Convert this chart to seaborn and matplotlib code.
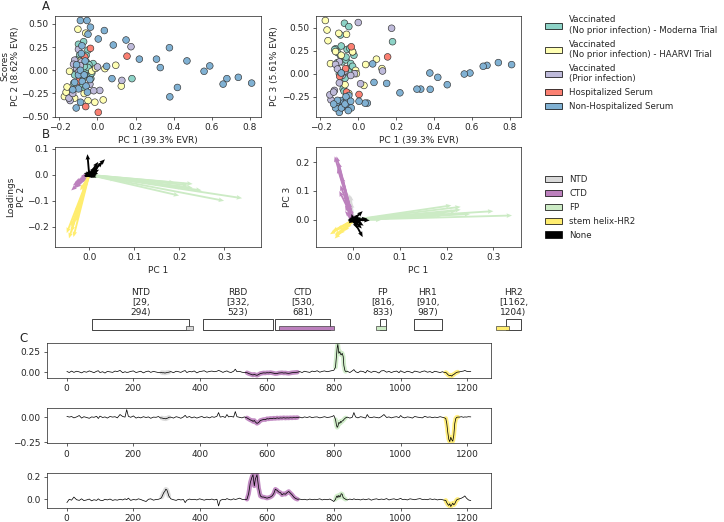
import numpy as np
import pandas as pd
import matplotlib
matplotlib.use("Agg")
import matplotlib.pyplot as plt
import seaborn as sns
from matplotlib.patches import Patch, Rectangle

# ---------------- DATA ----------------
GROUPS = ["Vaccinated\n(No prior infection) - Moderna Trial",
          "Vaccinated\n(No prior infection) - HAARVI Trial",
          "Vaccinated\n(Prior infection)",
          "Hospitalized Serum",
          "Non-Hospitalized Serum"]
GROUP_COLORS = ["#8dd3c7", "#ffffb3", "#bebada", "#fb8072", "#80b1d3"]

# scores (PC1, PC2, PC3) per sample
MODERNA = [(-0.073, 0.308, 0.547), (-0.050, 0.217, 0.511), (-0.094, 0.163, 0.420),
           (-0.059, 0.090, 0.263), (-0.023, 0.072, 0.200), (-0.045, 0.060, 0.274),
           (-0.030, 0.000, 0.237), (-0.095, 0.050, 0.200), (-0.085, 0.000, 0.128),
           (-0.065, -0.020, 0.150), (-0.040, -0.050, 0.110), (-0.035, -0.090, 0.060),
           (-0.110, -0.010, 0.230), (-0.080, -0.150, -0.164), (0.181, -0.090, 0.347),
           (-0.120, -0.050, 0.270), (-0.060, 0.160, 0.050), (-0.100, 0.280, 0.000),
           (-0.075, -0.080, -0.190), (-0.050, 0.030, 0.020), (-0.030, -0.030, 0.080),
           (-0.110, 0.110, 0.120), (-0.065, -0.200, 0.180), (-0.090, -0.100, 0.300),
           (-0.070, 0.040, -0.050), (-0.125, -0.140, 0.260)]
HAARVI = [(-0.174, -0.283, 0.577), (-0.165, -0.236, 0.474), (-0.103, 0.442, 0.438),
          (-0.062, 0.400, 0.427), (-0.147, -0.011, 0.109), (-0.160, -0.180, 0.358),
          (-0.050, -0.326, -0.215), (-0.014, -0.344, 0.036), (0.030, -0.319, -0.128),
          (0.039, 0.018, 0.099), (0.096, 0.054, 0.157), (0.125, -0.170, 0.055),
          (-0.030, -0.010, 0.237), (-0.070, -0.250, -0.120), (-0.120, -0.300, 0.240),
          (-0.090, 0.100, 0.200), (-0.010, 0.020, 0.000)]
PRIOR = [(0.176, 0.254, 0.493), (0.000, 0.036, 0.555), (-0.100, 0.225, 0.128),
         (-0.120, 0.109, 0.100), (-0.126, 0.065, -0.182), (-0.110, 0.020, 0.050),
         (-0.085, 0.090, -0.020), (-0.070, -0.050, 0.030), (0.012, -0.217, -0.109),
         (0.128, -0.109, 0.029), (-0.144, -0.326, -0.285), (-0.150, -0.300, -0.230),
         (-0.130, -0.250, -0.200), (-0.020, -0.220, 0.000), (-0.100, -0.020, -0.100),
         (-0.090, 0.050, 0.000), (-0.040, -0.150, -0.020)]
HOSP = [(-0.037, 0.236, 0.292), (-0.067, 0.145, 0.055), (0.155, 0.152, 0.182),
        (-0.098, -0.116, -0.030), (-0.062, -0.391, -0.200), (0.004, -0.453, -0.226)]
NONHOSP = [(0.810, -0.138, 0.098), (0.740, -0.076, 0.120), (0.680, -0.090, 0.090),
           (0.660, -0.149, 0.080), (0.590, 0.047, 0.007), (0.560, -0.011, -0.004),
           (0.470, 0.101, -0.120), (0.420, -0.185, -0.040), (0.380, -0.286, -0.170),
           (0.378, 0.243, 0.007), (0.330, 0.029, -0.168), (0.310, 0.120, -0.168),
           (0.220, 0.120, -0.208), (0.150, 0.326, -0.106), (0.083, 0.272, -0.095),
           (0.076, -0.090, 0.106), (0.048, 0.043, -0.320), (0.036, 0.428, -0.320),
           (0.004, 0.337, -0.300),
           (-0.090, 0.536, -0.292), (-0.055, 0.536, -0.358), (-0.037, 0.464, -0.372),
           (-0.050, 0.388, -0.237), (-0.082, 0.264, -0.321), (-0.085, 0.180, -0.365),
           (-0.100, -0.050, -0.401), (-0.080, -0.120, -0.358), (-0.060, -0.170, -0.292),
           (-0.100, -0.200, -0.420), (-0.120, -0.130, -0.372), (-0.090, 0.000, 0.007),
           (-0.112, -0.406, -0.310), (-0.089, -0.344, -0.372), (-0.053, -0.236, -0.401),
           (-0.070, -0.050, -0.330), (-0.110, 0.060, -0.290), (-0.065, 0.100, -0.250),
           (-0.130, -0.210, -0.330), (-0.040, -0.100, -0.300)]

# loadings per spike site
SITES = [1, 8, 15, 22, 30, 38, 45, 52, 60, 68, 75, 82, 90, 95, 100, 108, 115, 122, 130, 138,
         145, 152, 160, 168, 175, 180, 185, 192, 200, 208, 215, 222, 230, 238, 245, 252, 260, 268, 275, 282,
         285, 288, 291, 294, 297, 300, 303, 306,
         312, 320, 328, 335, 342, 350, 355, 360, 368, 375, 382, 390, 398, 405, 412, 420, 428, 435, 442, 450,
         455, 460, 468, 475, 480, 485, 492, 500, 505, 510, 518, 525, 532,
         540, 545, 550, 555, 558, 562, 565, 570, 575, 580, 585, 590, 595, 600, 605, 610, 615, 620, 625, 630,
         635, 640, 645, 650, 655, 660, 665, 670, 675, 680, 685, 691,
         698, 705, 712, 720, 728, 735, 742, 750, 758, 765, 772, 780, 788, 795, 800,
         805, 808, 810, 812, 815, 818, 820, 822, 825, 828, 830, 833, 835,
         840, 848, 855, 860, 865, 872, 880, 888, 895, 900, 905, 912, 920, 928, 935, 942, 950, 958, 965, 972,
         980, 988, 995, 1000, 1005, 1012, 1020, 1028, 1035, 1042, 1050, 1058, 1065, 1072, 1080, 1088, 1095,
         1102, 1110, 1118, 1125, 1130,
         1135, 1138, 1141, 1144, 1147, 1150, 1153, 1156, 1159, 1162, 1165, 1168, 1171,
         1176, 1182, 1188, 1192, 1197, 1203, 1210]
LOAD_PC1 = [0.008, -0.006, 0.012, -0.004, 0.010, 0.002, -0.010, 0.006, -0.002, 0.014, 0.004, -0.008, 0.010, 0.016, -0.006, 0.004, -0.012, 0.008, 0.002, -0.004,
            0.012, 0.006, 0.020, -0.008, 0.004, -0.004, -0.002, 0.008, 0.014, -0.006, 0.002, 0.010, -0.010, 0.006, 0.012, -0.004, 0.008, 0.000, -0.006, -0.008,
            -0.006, -0.010, -0.008, -0.012, -0.010, -0.006, -0.004, -0.002,
            0.006, -0.008, 0.010, 0.004, -0.004, 0.012, 0.018, -0.006, 0.008, 0.002, 0.014, -0.010, 0.006, 0.010, 0.016, -0.002, 0.008, 0.012, 0.004, 0.010,
            0.020, 0.012, -0.004, 0.008, 0.014, 0.002, -0.006, 0.010, 0.035, 0.004, 0.008, -0.002, -0.006,
            -0.008, -0.018, -0.025, -0.032, -0.036, -0.028, -0.034, -0.040, -0.030, -0.018, -0.014, -0.010, -0.012, -0.008, -0.010, -0.006, -0.010, -0.014, -0.020, -0.018,
            -0.012, -0.010, -0.008, -0.012, -0.010, -0.014, -0.016, -0.012, -0.008, -0.006, -0.004, -0.002,
            0.006, -0.006, 0.010, 0.002, -0.004, 0.012, 0.004, 0.016, -0.002, 0.008, 0.014, 0.004, 0.012, 0.018, 0.022,
            0.060, 0.200, 0.300, 0.340, 0.230, 0.250, 0.220, 0.210, 0.230, 0.190, 0.080, 0.020, 0.008,
            0.010, -0.006, 0.014, 0.030, 0.004, -0.008, 0.012, 0.006, -0.010, 0.020, 0.008, -0.004, 0.010, 0.002, -0.012, 0.014, 0.018, -0.002, 0.008, -0.006,
            0.006, 0.012, -0.008, 0.016, 0.004, -0.006, 0.010, 0.002, -0.010, 0.012, 0.004, -0.004, 0.008, 0.014, -0.002, 0.006, -0.008,
            0.010, 0.002, -0.006, 0.004, -0.004,
            -0.005, -0.015, -0.030, -0.040, -0.045, -0.040, -0.050, -0.035, -0.030, -0.020, -0.010, -0.004, 0.000,
            0.002, 0.008, 0.012, 0.020, 0.010, 0.006, 0.008]
LOAD_PC2 = [0.012, 0.004, 0.010, -0.004, 0.006, 0.020, -0.006, 0.008, 0.000, -0.008, 0.006, 0.002, 0.012, -0.010, 0.014, 0.000, 0.006, -0.006, 0.010, 0.004,
            0.008, -0.004, 0.030, 0.010, 0.004, 0.080, 0.012, 0.002, 0.016, -0.006, 0.004, -0.004, 0.008, 0.000, 0.006, -0.008, 0.004, 0.002, 0.010, -0.006,
            -0.004, -0.008, -0.012, -0.010, -0.014, -0.008, -0.006, 0.002,
            0.004, -0.006, 0.008, 0.002, -0.008, 0.006, 0.022, 0.000, 0.010, -0.004, 0.006, -0.006, 0.004, 0.010, -0.002, 0.006, -0.004, 0.008, 0.002, 0.012,
            0.050, 0.004, 0.010, 0.000, 0.030, 0.006, 0.012, 0.004, 0.060, 0.008, 0.002, -0.004, 0.006,
            -0.004, -0.015, -0.025, -0.030, -0.040, -0.030, -0.045, -0.060, -0.050, -0.030, -0.025, -0.020, -0.022, -0.012, -0.015, -0.008, -0.012, -0.006, -0.010, -0.004,
            -0.008, -0.004, -0.006, -0.002, -0.006, -0.003, -0.005, -0.002, -0.004, -0.001, -0.003, 0.000,
            0.004, -0.004, 0.006, 0.000, 0.008, -0.002, 0.004, 0.006, -0.004, 0.002, 0.008, 0.000, 0.004, 0.010, 0.020,
            -0.020, -0.080, -0.100, -0.090, -0.050, -0.060, -0.040, -0.050, -0.035, -0.030, -0.020, -0.010, -0.004,
            0.004, -0.006, 0.002, 0.050, 0.006, -0.004, 0.008, 0.002, -0.006, 0.030, 0.004, -0.002, 0.006, 0.000, -0.004, 0.008, 0.030, 0.000, 0.006, -0.004,
            0.004, 0.008, -0.002, 0.020, 0.004, -0.004, 0.006, 0.002, -0.006, 0.010, 0.004, 0.000, -0.004, 0.012, 0.002, 0.006, -0.002,
            0.004, 0.000, 0.008, 0.002, -0.002,
            -0.010, -0.060, -0.150, -0.220, -0.245, -0.200, -0.225, -0.240, -0.180, -0.060, -0.010, 0.002, 0.004,
            0.004, 0.008, 0.002, 0.006, 0.004, 0.008, 0.006]
LOAD_PC3 = [-0.030, 0.000, -0.008, 0.020, -0.004, -0.010, 0.004, -0.012, -0.006, 0.002, -0.014, -0.004, -0.010, 0.004, -0.008, -0.012, 0.000, -0.006, 0.002, -0.010,
            -0.004, -0.008, 0.000, -0.006, 0.004, -0.004, 0.010, -0.010, -0.002, -0.006, 0.004, -0.002, -0.012, -0.020, 0.000, 0.004, -0.008, -0.002, 0.000, 0.008,
            0.020, 0.040, 0.060, 0.070, 0.090, 0.085, 0.060, 0.030,
            0.004, -0.004, -0.010, 0.000, -0.006, -0.002, -0.030, -0.008, 0.002, -0.004, 0.000, -0.006, 0.004, -0.002, -0.008, 0.000, -0.004, 0.002, -0.006, 0.000,
            -0.060, -0.010, 0.000, -0.004, 0.006, 0.000, -0.006, 0.004, -0.002, 0.002, 0.010, 0.000, -0.004,
            0.000, 0.050, 0.150, 0.200, 0.220, 0.120, 0.180, 0.220, 0.100, 0.030, 0.020, 0.020, 0.015, 0.010, 0.015, 0.020, 0.030, 0.050, 0.090, 0.080,
            0.065, 0.060, 0.040, 0.050, 0.045, 0.060, 0.070, 0.055, 0.040, 0.020, 0.008, 0.000,
            0.002, -0.004, 0.000, -0.006, 0.002, -0.004, 0.000, -0.002, 0.004, -0.006, 0.000, -0.004, 0.002, -0.010, -0.020,
            0.000, 0.025, 0.030, 0.015, 0.035, 0.020, 0.030, 0.050, 0.045, 0.015, 0.010, 0.005, 0.000,
            -0.006, 0.002, -0.004, 0.004, -0.002, 0.000, -0.006, 0.002, -0.004, 0.000, 0.004, -0.008, 0.000, 0.004, -0.004, 0.002, -0.002, 0.006, -0.006, 0.000,
            0.004, -0.004, 0.002, 0.008, -0.002, 0.000, -0.006, 0.004, 0.000, -0.004, 0.002, 0.006, -0.002, 0.000, -0.004, 0.004, -0.002,
            0.002, -0.006, 0.000, -0.004, -0.008,
            -0.010, -0.030, -0.045, -0.055, -0.040, -0.065, -0.050, -0.035, -0.050, -0.040, -0.020, -0.005, 0.000,
            0.004, 0.010, 0.020, 0.030, 0.010, -0.006, -0.012]

# highlighted regions (loadings categories)
HL_NAMES = ["NTD", "CTD", "FP", "stem helix-HR2"]
HL_START = [285, 540, 805, 1135]
HL_END = [306, 691, 835, 1171]
HL_COLORS = ["#d9d9d9", "#bc80bd", "#ccebc5", "#ffed6f"]
NONE_COLOR = "black"

# domain annotation
DOM_NAMES = ["NTD", "RBD", "CTD", "FP", "HR1", "HR2"]
DOM_START = [29, 332, 530, 816, 910, 1162]
DOM_END = [294, 523, 681, 833, 987, 1204]

assert len(SITES) == len(LOAD_PC1) == len(LOAD_PC2) == len(LOAD_PC3)

# ---------------- STYLE ----------------
sns.set_style("ticks")
plt.rcParams["font.family"] = ["DejaVu Sans"]
plt.rcParams["font.size"] = 10
plt.rcParams["axes.labelsize"] = 10
plt.rcParams["xtick.labelsize"] = 10
plt.rcParams["ytick.labelsize"] = 10

DPI = 65
fig = plt.figure(figsize=(724 / DPI, 522 / DPI), dpi=DPI)

# ---------------- PANEL A ----------------
rows = []
for g, pts in zip(GROUPS, [MODERNA, HAARVI, PRIOR, HOSP, NONHOSP]):
    for p1, p2, p3 in pts:
        rows.append({"group": g, "PC1": p1, "PC2": p2, "PC3": p3})
scores = pd.DataFrame(rows)
pal = dict(zip(GROUPS, GROUP_COLORS))

axA1 = fig.add_axes([0.076, 0.776, 0.2845, 0.1935])
sns.scatterplot(data=scores, x="PC1", y="PC2", hue="group", palette=pal, s=55,
                edgecolor="#333333", linewidth=0.7, legend=False, ax=axA1)
axA1.set_xlabel("PC 1 (39.3% EVR)")
axA1.set_ylabel("Scores\nPC 2 (8.62% EVR)", labelpad=1)
axA1.set_xticks([-0.2, 0.0, 0.2, 0.4, 0.6, 0.8])
axA1.set_yticks([-0.5, -0.25, 0.0, 0.25, 0.5])

axA2 = fig.add_axes([0.4365, 0.776, 0.283, 0.1935])
sns.scatterplot(data=scores, x="PC1", y="PC3", hue="group", palette=pal, s=55,
                edgecolor="#333333", linewidth=0.7, legend=False, ax=axA2)
axA2.set_xlabel("PC 1 (39.3% EVR)")
axA2.set_ylabel("PC 3 (5.61% EVR)")
axA2.set_xticks([-0.2, 0.0, 0.2, 0.4, 0.6, 0.8])
axA2.set_yticks([-0.25, 0.0, 0.25, 0.5])

handlesA = [Patch(facecolor=c, edgecolor="black", linewidth=0.8) for c in GROUP_COLORS]
fig.legend(handlesA, GROUPS, loc="upper left", bbox_to_anchor=(0.748, 0.977),
           frameon=False, fontsize=9.6, labelspacing=0.55, handletextpad=0.8,
           borderaxespad=0)

# ---------------- PANEL B ----------------
sites = np.array(SITES)
l1, l2, l3 = np.array(LOAD_PC1), np.array(LOAD_PC2), np.array(LOAD_PC3)
cat = np.array(["None"] * len(sites), dtype=object)
for n, s0, e0 in zip(HL_NAMES, HL_START, HL_END):
    cat[(sites >= s0) & (sites <= e0)] = n
cat_colors = dict(zip(HL_NAMES, HL_COLORS))
cat_colors["None"] = NONE_COLOR

def draw_loadings(ax, ly):
    for n in HL_NAMES + ["None"]:
        m = cat == n
        ax.quiver(np.zeros(m.sum()), np.zeros(m.sum()), l1[m], ly[m],
                  angles="xy", scale_units="xy", scale=1, color=cat_colors[n],
                  width=0.009, headwidth=2.5, headlength=3, headaxislength=2.7)

axB1 = fig.add_axes([0.076, 0.527, 0.2845, 0.1916])
draw_loadings(axB1, l2)
axB1.set_xlim(-0.076, 0.382)
axB1.set_ylim(-0.278, 0.108)
axB1.set_xticks([0.0, 0.1, 0.2, 0.3])
axB1.set_yticks([-0.2, -0.1, 0.0, 0.1])
axB1.set_xlabel("PC 1")
axB1.set_ylabel("Loadings\nPC 2", labelpad=1)

axB2 = fig.add_axes([0.4365, 0.527, 0.283, 0.1916])
draw_loadings(axB2, l3)
axB2.set_xlim(-0.08, 0.359)
axB2.set_ylim(-0.094, 0.253)
axB2.set_xticks([0.0, 0.1, 0.2, 0.3])
axB2.set_yticks([0.0, 0.1, 0.2])
axB2.set_xlabel("PC 1")
axB2.set_ylabel("PC 3")

handlesB = [Patch(facecolor=c, edgecolor="black", linewidth=0.8) for c in HL_COLORS + [NONE_COLOR]]
fig.legend(handlesB, HL_NAMES + ["None"], loc="upper left", bbox_to_anchor=(0.748, 0.6705),
           frameon=False, fontsize=9.6, labelspacing=0.55, handletextpad=0.8,
           borderaxespad=0)

# ---------------- DOMAIN MAP ----------------
axD = fig.add_axes([0.1128, 0.3678, 0.6418, 0.0211])
axD.set_xlim(0, 1273)
axD.set_ylim(0, 1)
axD.axis("off")
for n, s0, e0 in zip(DOM_NAMES, DOM_START, DOM_END):
    axD.add_patch(Rectangle((s0, 0), e0 - s0, 1, facecolor="white", edgecolor="black",
                            lw=0.8, clip_on=False))
    axD.text((s0 + e0) / 2, 1.2, f"{n}\n[{s0},\n{e0})", ha="center", va="bottom",
             fontsize=10, linespacing=1.1, clip_on=False)
for c, s0, e0 in zip(HL_COLORS, HL_START, HL_END):
    axD.add_patch(Rectangle((s0, 0), e0 - s0, 0.33, facecolor=c, edgecolor="#333333",
                            lw=0.7, clip_on=False))

# ---------------- PANEL C ----------------
c_pos = [[0.0645, 0.2764, 0.6137, 0.067],
         [0.0645, 0.1508, 0.6137, 0.0676],
         [0.0645, 0.0266, 0.6137, 0.067]]
c_ticks = [[0.0, 0.25], [-0.25, 0.0], [0.0, 0.2]]
for pos, vals, yt in zip(c_pos, [l1, l2, l3], c_ticks):
    ax = fig.add_axes(pos)
    for c, s0, e0 in zip(HL_COLORS, HL_START, HL_END):
        m = (sites >= s0) & (sites <= e0)
        sns.lineplot(x=sites[m], y=vals[m], color=c, lw=5, alpha=0.9, ax=ax, zorder=1)
    sns.lineplot(x=sites, y=vals, color="black", lw=0.8, ax=ax, zorder=2)
    ax.set_xticks([0, 200, 400, 600, 800, 1000, 1200])
    ax.set_yticks(yt)

# panel letters
fig.text(46 / 724, 1 - 6 / 522, "A", ha="center", va="center", fontsize=13)
fig.text(46 / 724, 1 - 135 / 522, "B", ha="center", va="center", fontsize=13)
fig.text(24 / 724, 1 - 338 / 522, "C", ha="center", va="center", fontsize=13)

fig.savefig("out.png", dpi=DPI)
